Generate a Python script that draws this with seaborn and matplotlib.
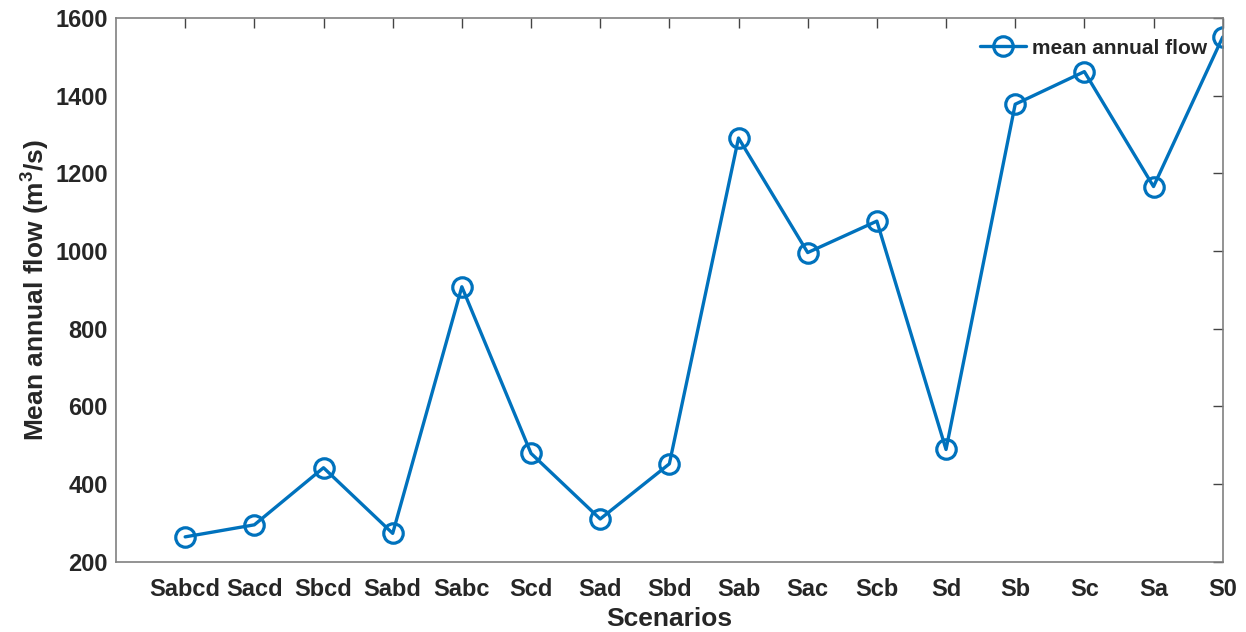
import pandas as pd
import seaborn as sns
import matplotlib.pyplot as plt

# Scenario names and mean annual flow (m3/s)
scenarios = ['Sabcd', 'Sacd', 'Sbcd', 'Sabd', 'Sabc', 'Scd', 'Sad', 'Sbd',
             'Sab', 'Sac', 'Scb', 'Sd', 'Sb', 'Sc', 'Sa', 'S0']
flow = [264, 295, 442, 273, 908, 479, 310, 452,
        1291, 996, 1077, 489, 1378, 1462, 1166, 1551]
y_ticks = [200, 400, 600, 800, 1000, 1200, 1400, 1600]

df = pd.DataFrame({'Scenario': scenarios, 'Flow': flow})

sns.set_style('white')
plt.rcParams['font.family'] = ['Liberation Sans', 'DejaVu Sans']
plt.rcParams['font.weight'] = 'bold'
plt.rcParams['mathtext.fontset'] = 'custom'
plt.rcParams['mathtext.rm'] = 'Liberation Sans:bold'
plt.rcParams['mathtext.bf'] = 'Liberation Sans:bold'
plt.rcParams['mathtext.default'] = 'bf'

fig = plt.figure(figsize=(12.46, 6.32), dpi=100)
ax = fig.add_axes([0.0931, 0.1112, 0.8882, 0.8603])

blue = '#0072BD'
sns.lineplot(data=df, x='Scenario', y='Flow', sort=False, ax=ax,
             color=blue, linewidth=2.4, marker='o', markersize=14,
             markerfacecolor='none', markeredgecolor=blue, markeredgewidth=2.3,
             label='mean annual flow')

ax.set_xlim(-1, len(scenarios) - 1)
ax.set_ylim(200, 1600)
ax.set_yticks(y_ticks)

ax.set_xlabel('Scenarios', fontsize=19, fontweight='bold', color='#262626', labelpad=4)
ax.set_ylabel('Mean annual flow (m$^3$/s)', fontsize=19, fontweight='bold', color='#262626', labelpad=2)

ax.tick_params(axis='both', which='major', direction='in', length=7, width=1,
               color='#444444', labelsize=17, labelcolor='#262626',
               top=True, right=True)
ax.tick_params(axis='x', pad=12)
ax.tick_params(axis='y', pad=6)
for lab in ax.get_xticklabels() + ax.get_yticklabels():
    lab.set_fontweight('bold')

for sp in ax.spines.values():
    sp.set_color('#808080')
    sp.set_linewidth(1.2)

leg = ax.legend(loc='upper right', frameon=False, fontsize=15,
                handlelength=2.2, handletextpad=0.3,
                borderaxespad=0.2, bbox_to_anchor=(0.997, 0.985))
for t in leg.get_texts():
    t.set_fontweight('bold')

fig.savefig('out.png', dpi=100)
